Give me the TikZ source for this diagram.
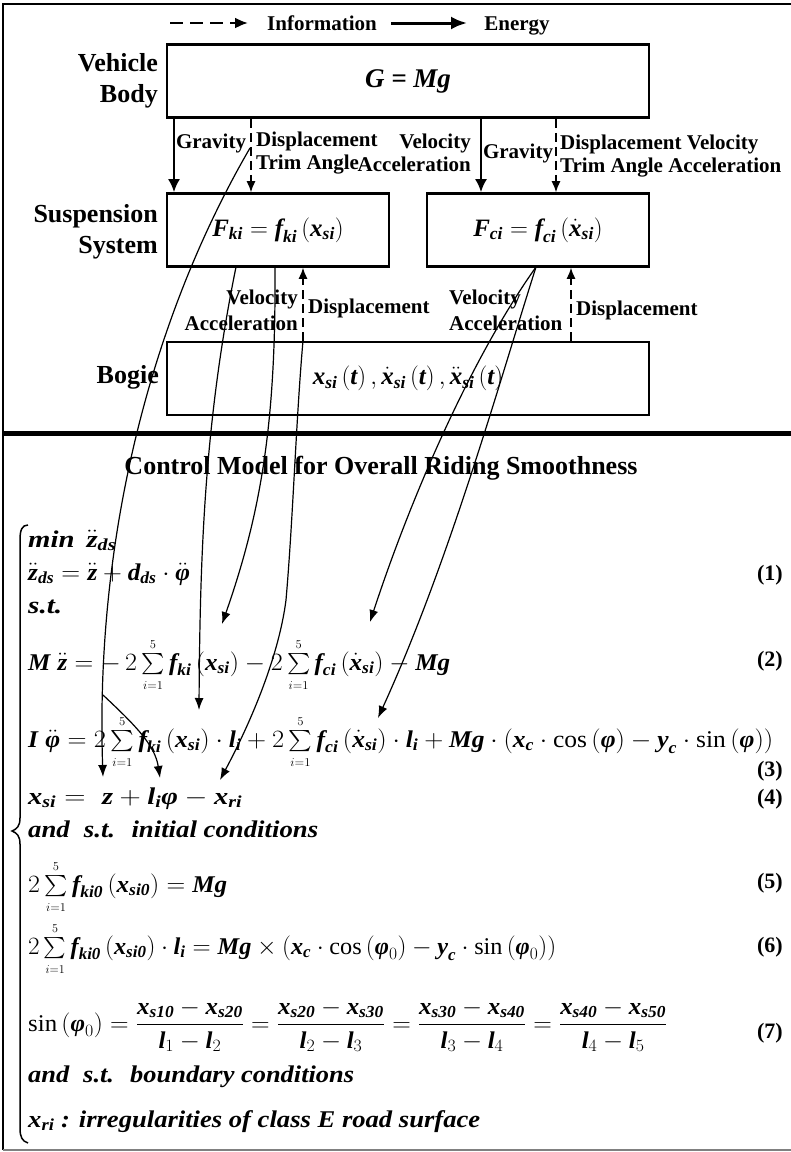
\documentclass[tikz,border=0pt]{standalone}
\usepackage{amsmath}
\usepackage{graphicx}
\usepackage{fontspec}
\setmainfont{Liberation Serif}
\usetikzlibrary{arrows.meta,calc}
\newcommand{\mt}[1]{\text{#1}}
\newcommand{\xsi}{\mt{x}_{\mt{si}}}
\newcommand{\sm}{\mathop{\vcenter{\hbox{\scalebox{0.85}{$\textstyle\sum$}}}}\limits_{\scriptscriptstyle i=1}^{\scriptscriptstyle 5}}
\newcommand{\fitw}[2]{\resizebox{#1}{\height}{#2}}
\newcommand{\eqfont}{\fontsize{24}{28}\selectfont\bfseries\itshape}
\begin{document}
\begin{tikzpicture}[x=1pt,y=-1pt,
  box/.style={draw, line width=2.6pt, minimum height=73pt, inner sep=0pt},
  lab/.style={font=\fontsize{21}{23}\selectfont\bfseries, inner sep=0pt},
  side/.style={font=\fontsize{26}{31}\selectfont\bfseries, align=right, inner sep=0pt, anchor=east},
  energy/.style={line width=2.2pt, -{Latex[length=13pt,width=12pt]}},
  info/.style={line width=1.3pt, dash pattern=on 9pt off 5pt, -{Latex[length=11pt,width=9pt]}},
  link/.style={line width=1.2pt, -{Latex[length=12pt,width=9pt]}},
  eq/.style={anchor=base west, inner sep=0pt, font=\eqfont},
  eqno/.style={anchor=base east, inner sep=0pt, font=\fontsize{22}{26}\selectfont\bfseries}]
\useasboundingbox (0,0) rectangle (791,1152);
% frame
\draw[line width=2.5pt] (791,4) -- (3,4) -- (3,1150);
\draw[line width=1.2pt, gray] (3,1150) -- (791,1150);
\draw[line width=5pt] (3,433) -- (791,433);
% legend
\coordinate (la1) at (170,23); \coordinate (la2) at (248,23);
\coordinate (lb1) at (391,23); \coordinate (lb2) at (467,23);
\draw[line width=2.2pt, dash pattern=on 13pt off 7pt, -{Latex[length=13pt,width=11pt]}] (la1) -- (la2);
\node[lab, anchor=base] (linfo) at (322,30) {Information};
\draw[line width=3pt, -{Latex[length=16pt,width=13pt]}] (lb1) -- (lb2);
\node[lab, anchor=base] (lenergy) at (517,30) {Energy};
% boxes
\node[box, minimum width=482pt, font=\fontsize{27}{30}\selectfont\bfseries\itshape] (vb) at (408,81) {G = Mg};
\node[box, minimum width=222pt, font=\fontsize{25}{28}\selectfont\bfseries\itshape] (sl) at (278,230)
  {$\mt{F}_{\mt{ki}} = \mt{f}_{\mt{ki}}\left(\xsi\right)$};
\node[box, minimum width=222pt, font=\fontsize{25}{28}\selectfont\bfseries\itshape] (sr) at (538,230)
  {$\mt{F}_{\mt{ci}} = \mt{f}_{\mt{ci}}\left(\dot{\mt{x}}_{\mt{si}}\right)$};
\node[box, minimum width=482pt, font=\fontsize{25}{28}\selectfont\bfseries\itshape] (bg) at (408,378.5)
  {$\xsi\left(\mt{t}\right), \dot{\mt{x}}_{\mt{si}}\left(\mt{t}\right), \ddot{\mt{x}}_{\mt{si}}\left(\mt{t}\right)$};
% side labels
\node[side] (svb) at (158,81) {Vehicle\\Body};
\node[side] (ssus) at (158,232) {Suspension\\System};
\node[side] (sbg) at (159,377) {Bogie};
% vertical arrows
\coordinate (xa) at (174,0); \coordinate (xb) at (251,0);
\coordinate (xc) at (481,0); \coordinate (xd) at (556,0);
\coordinate (xe) at (303,0); \coordinate (xf) at (571,0);
\draw[energy] (vb.south -| xa) -- (sl.north -| xa);
\draw[info] (vb.south -| xb) -- (sl.north -| xb);
\draw[energy] (vb.south -| xc) -- (sr.north -| xc);
\draw[info] (vb.south -| xd) -- (sr.north -| xd);
\draw[info] (bg.north -| xe) -- (sl.south -| xe);
\draw[info] (bg.north -| xf) -- (sr.south -| xf);
% arrow labels
\node[lab] (lg1) at (211,143) {Gravity};
\node[lab, anchor=west, align=left] (ld1) at (256,153) {Displacement\\Trim Angle};
\node[lab, anchor=east, align=right] (lv1) at (471,153) {Velocity\\Acceleration};
\node[lab] (lg2) at (518,153) {Gravity};
\node[lab, anchor=west, align=left] (ld2) at (560,156) {Displacement Velocity\\Trim Angle Acceleration};
\node[lab, anchor=east, align=right] (lv2) at (298,310) {Velocity\\[3pt]Acceleration};
\node[lab, anchor=west] (ldl) at (308,308) {Displacement};
\node[lab, anchor=west, align=left] (lv3) at (449,310) {Velocity\\[3pt]Acceleration};
\node[lab, anchor=west] (ldr) at (576,310) {Displacement};
% title
\node[font=\fontsize{26}{30}\selectfont\bfseries, inner sep=0pt] (title) at (381,468) {Control Model for Overall Riding Smoothness};
% brace
\draw[line width=1.5pt] (28,525) .. controls (22,525) and (20,530) .. (20,540) -- (20,818)
  .. controls (20,826) and (17,829) .. (12,831) .. controls (17,833) and (20,836) .. (20,844)
  -- (20,1128) .. controls (20,1137) and (22,1141) .. (28,1143);
% equations
\node[eq] (r0) at (28,547) {\fitw{88pt}{min\, $\ddot{\mt{z}}_{\mt{ds}}$}};
\node[eq] (r1) at (28,580) {\fitw{162pt}{$\ddot{\mt{z}}_{\mt{ds}} = \ddot{\mt{z}} + \mt{d}_{\mt{ds}}\cdot\ddot{\mt{φ}}$}};
\node[eqno] (n1) at (783,580) {(1)};
\node[eq] (rst) at (28,613) {\fitw{34pt}{s.t.}};
\node[eq] (r2) at (28,670) {\fitw{422pt}{$\mt{M}\;\ddot{\mt{z}} = -\,2\sm\mt{f}_{\mt{ki}}\left(\xsi\right) - 2\sm\mt{f}_{\mt{ci}}\left(\dot{\mt{x}}_{\mt{si}}\right) - \mt{Mg}$}};
\node[eqno] (n2) at (783,666) {(2)};
\node[eq] (r3) at (28,747) {\fitw{745pt}{$\mt{I}\;\ddot{\mt{φ}} = 2\sm\mt{f}_{\mt{ki}}\left(\xsi\right)\cdot\mt{l}_{\mt{i}} + 2\sm\mt{f}_{\mt{ci}}\left(\dot{\mt{x}}_{\mt{si}}\right)\cdot\mt{l}_{\mt{i}} + \mt{Mg}\cdot\left(\mt{x}_{\mt{c}}\cdot\mathrm{cos}\left(\mt{φ}\right) - \mt{y}_{\mt{c}}\cdot\mathrm{sin}\left(\mt{φ}\right)\right)$}};
\node[eqno] (n3) at (783,776) {(3)};
\node[eq] (r4) at (28,804) {\fitw{214pt}{$\xsi = \;\mt{z} + \mt{l}_{\mt{i}}\mt{φ} - \mt{x}_{\mt{ri}}$}};
\node[eqno] (n4) at (783,804) {(4)};
\node[eq] (rin) at (28,837) {\fitw{290pt}{and\; s.t.\; initial conditions}};
\node[eq] (r5) at (28,892) {\fitw{199pt}{$2\sm\mt{f}_{\mt{ki0}}\left(\mt{x}_{\mt{si0}}\right) = \mt{Mg}$}};
\node[eqno] (n5) at (783,888) {(5)};
\node[eq] (r6) at (28,954) {\fitw{528pt}{$2\sm\mt{f}_{\mt{ki0}}\left(\mt{x}_{\mt{si0}}\right)\cdot\mt{l}_{\mt{i}} = \mt{Mg}\times\left(\mt{x}_{\mt{c}}\cdot\mathrm{cos}\left(\mt{φ}_{0}\right) - \mt{y}_{\mt{c}}\cdot\mathrm{sin}\left(\mt{φ}_{0}\right)\right)$}};
\node[eqno] (n6) at (783,952) {(6)};
\node[eq] (r7) at (28,1031) {\fitw{639pt}{$\displaystyle \mathrm{sin}\left(\mt{φ}_{0}\right) = \frac{\mt{x}_{\mt{s10}} - \mt{x}_{\mt{s20}}}{\mt{l}_{1} - \mt{l}_{2}} = \frac{\mt{x}_{\mt{s20}} - \mt{x}_{\mt{s30}}}{\mt{l}_{2} - \mt{l}_{3}} = \frac{\mt{x}_{\mt{s30}} - \mt{x}_{\mt{s40}}}{\mt{l}_{3} - \mt{l}_{4}} = \frac{\mt{x}_{\mt{s40}} - \mt{x}_{\mt{s50}}}{\mt{l}_{4} - \mt{l}_{5}}$}};
\node[eqno] (n7) at (783,1038) {(7)};
\node[eq] (rbd) at (28,1082) {\fitw{326pt}{and\; s.t.\; boundary conditions}};
\node[eq] (rxr) at (28,1127) {\fitw{452pt}{$\mt{x}_{\mt{ri}}$ : irregularities of class E road surface}};
% curved connectors
\coordinate (a0) at (250,148);
\coordinate (tz) at (103,777);
\coordinate (a1) at (103,695);
\coordinate (tphi) at (160,778);
\coordinate (b0) at (236,267);
\coordinate (tfk3) at (199,710);
\coordinate (c0) at (275,267);
\coordinate (tfk2) at (222,624);
\coordinate (txr) at (220,780);
\coordinate (e0) at (536,267);
\coordinate (tfc2) at (370,622);
\coordinate (tfc3) at (378,718);
\draw[link] (a0) .. controls (150,320) and (95,540) .. (tz);
\draw[link] (a1) .. controls (135,725) and (155,745) .. (tphi);
\draw[link] (b0) .. controls (205,420) and (200,550) .. (tfk3);
\draw[link] (c0) .. controls (276,420) and (262,510) .. (tfk2);
\draw[link] (bg.north -| xe) .. controls (296,420) and (293,520) .. (286,600) .. controls (279,655) and (252,720) .. (txr);
\draw[link] (e0) .. controls (470,360) and (410,500) .. (tfc2);
\draw[link] (e0) .. controls (500,380) and (450,560) .. (tfc3);
\end{tikzpicture}
\end{document}
